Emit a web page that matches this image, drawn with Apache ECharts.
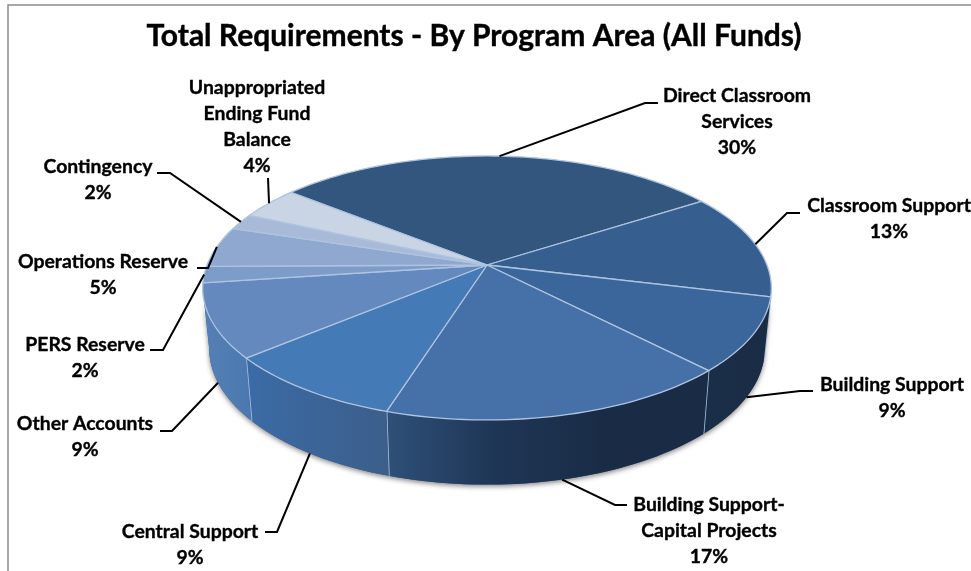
<!DOCTYPE html>
<html>
<head>
<meta charset="utf-8">
<title>Total Requirements - By Program Area (All Funds)</title>
<style>
  html, body { margin: 0; padding: 0; background: #fff; overflow: hidden; }
  #chart { width: 971px; height: 571px; }
</style>
<script src="https://cdn.jsdelivr.net/npm/echarts@6/dist/echarts.min.js"></script>
</head>
<body>
<div id="chart"></div>
<script>
// Program areas, clockwise from the top of the pie
const categories = [
  'Direct Classroom\nServices', 'Classroom Support', 'Building Support',
  'Building Support-\nCapital Projects', 'Central Support', 'Other Accounts',
  'PERS Reserve', 'Operations Reserve', 'Contingency',
  'Unappropriated\nEnding Fund\nBalance'
];
const shares = [30, 13, 9, 17, 9, 9, 2, 5, 2, 4];

// Top face colours per slice
const topColors = ['#33567F', '#365F8F', '#3A669C', '#4671A8', '#447AB6',
                   '#6489BF', '#7E9CC9', '#8EA8CF', '#A8BAD7', '#C9D4E5'];
// Side wall gradient colours, evenly spaced from screen left to screen right
const wallColors = [null, ['#1A2C45', '#1A2C45'], ['#1B2E48', '#1A2C44'],
                    ['#2F5078', '#1E3656', '#1A2C45', '#1A2C45'], ['#3B6BA6', '#3C5E8A'],
                    ['#5580B5', '#4A78AE'], ['#5580B5', '#5580B5'], null, null, null];

// Label placement: centre x, top y of the text block
const labelSpots = [[737, 83], [889, 193], [892, 372], [709, 492], [190, 519],
                    [85, 411], [85, 332], [103, 249], [98, 154], [257, 75]];
// Leader elbows, from the slice outwards to the label
const leaderElbows = [
  [[645, 103], [658, 103]], [[787, 213], [800, 213]], [[800, 391], [813, 391]],
  [[615, 505], [627, 505]], [[277, 532], [265, 532]], [[172, 431], [160, 431]],
  [[163, 350], [150, 350]], [[208, 268], [197, 268]], [[170, 173], [157, 173]],
  [[268, 178]]
];
// Which rim each leader touches: 1 for the lower rim of the wall, 0 for the top rim
const leaderOnWall = [0, 0, 1, 1, 1, 1, 0, 0, 0, 0];

// Perspective disc: apex on screen, radii and foreshortening
const apex = { x: 487, y: 265 };
const radiusX = 280, radiusY = 128, tilt = 0.174;
const startDeg = -51;
const lower = { dy: 60, sx: 0.977, sy: 1.03 };
const wallFrom = 100, wallTo = 260;

const total = shares.reduce((a, b) => a + b, 0);

function sliceRange(i) {
  let sum = 0;
  for (let k = 0; k < i; k++) sum += shares[k];
  const a0 = startDeg + sum / total * 360;
  return [a0, a0 + shares[i] / total * 360];
}

function project(deg, onLower) {
  const t = deg * Math.PI / 180;
  const w = 1 + tilt * Math.cos(t);
  const dx = radiusX * Math.sin(t) / w;
  const dy = -radiusY * Math.cos(t) / w;
  if (onLower) {
    return [apex.x + dx * lower.sx, apex.y + lower.dy + dy * lower.sy];
  }
  return [apex.x + dx, apex.y + dy];
}

function arcPoints(a0, a1, onLower) {
  const n = Math.max(2, Math.ceil(Math.abs(a1 - a0) / 1.5));
  const pts = [];
  for (let k = 0; k <= n; k++) pts.push(project(a0 + (a1 - a0) * k / n, onLower));
  return pts;
}

function renderWall(params, api) {
  const i = params.dataIndex;
  const children = [];
  if (i === 0) {
    // Soft shadow under the whole front of the disc
    children.push({
      type: 'polygon', silent: true,
      shape: { points: arcPoints(wallFrom, wallTo, true).concat(arcPoints(wallTo, wallFrom, false)) },
      style: { fill: '#3A5A80', shadowBlur: 5, shadowColor: 'rgba(40,40,40,0.55)', shadowOffsetY: 2 }
    });
  }
  const [s, e] = sliceRange(i);
  const a0 = Math.max(s, wallFrom), a1 = Math.min(e, wallTo);
  if (a1 > a0 && wallColors[i]) {
    const stops = wallColors[i];
    children.push({
      type: 'polygon', silent: true,
      shape: { points: arcPoints(a0, a1, false).concat(arcPoints(a1, a0, true)) },
      style: {
        fill: { type: 'linear', x: 0, y: 0, x2: 1, y2: 0,
                colorStops: stops.map((c, k) => ({ offset: k / (stops.length - 1), color: c })) },
        stroke: null
      }
    });
    if (a1 < wallTo) {
      const p = project(a1, false), q = project(a1, true);
      children.push({
        type: 'line', silent: true,
        shape: { x1: p[0], y1: p[1], x2: q[0], y2: q[1] },
        style: { stroke: '#A9C0DD', lineWidth: 1.6 }
      });
    }
  }
  return { type: 'group', children };
}

function renderTop(params, api) {
  const i = params.dataIndex;
  const [s, e] = sliceRange(i);
  return {
    type: 'polygon', silent: true,
    shape: { points: [[apex.x, apex.y]].concat(arcPoints(s, e, false)) },
    style: { fill: topColors[i], stroke: '#AEC3DF', lineWidth: 1.3, lineJoin: 'round' }
  };
}

function renderLabel(params, api) {
  const i = params.dataIndex;
  const [s, e] = sliceRange(i);
  const tip = project((s + e) / 2, leaderOnWall[i] === 1);
  return {
    type: 'group',
    children: [
      {
        type: 'polyline', silent: true,
        shape: { points: [tip].concat(leaderElbows[i]) },
        style: { stroke: '#000', lineWidth: 2, fill: null }
      },
      {
        type: 'text', silent: true,
        style: {
          x: labelSpots[i][0], y: labelSpots[i][1],
          text: categories[i] + '\n' + api.value(1) + '%',
          align: 'center', verticalAlign: 'top',
          lineHeight: 26, fill: '#000',
          stroke: '#000', lineWidth: 0.35,
          font: 'bold 19.4px Lato, sans-serif'
        }
      }
    ]
  };
}

const rows = shares.map((v, i) => [i, v]);

const chart = echarts.init(document.getElementById('chart'), null, { renderer: 'canvas' });
chart.setOption({
  animation: false,
  backgroundColor: '#fff',
  title: {
    text: 'Total Requirements - By Program Area (All Funds)',
    left: 469, top: 16, textAlign: 'center',
    textStyle: { fontFamily: 'Lato, sans-serif', fontWeight: 'bold', fontSize: 30, color: '#000',
                 textBorderColor: '#000', textBorderWidth: 0.4 }
  },
  graphic: [{
    type: 'rect', silent: true, z: 0,
    shape: { x: 8, y: 5, width: 1000, height: 620 },
    style: { fill: null, stroke: '#8C8C8C', lineWidth: 1.5 }
  }],
  series: [
    { type: 'custom', coordinateSystem: 'none', z: 2, data: rows, renderItem: renderWall },
    { type: 'custom', coordinateSystem: 'none', z: 3, data: rows, renderItem: renderTop },
    { type: 'custom', coordinateSystem: 'none', z: 4, data: rows, renderItem: renderLabel }
  ]
});
</script>
</body>
</html>
